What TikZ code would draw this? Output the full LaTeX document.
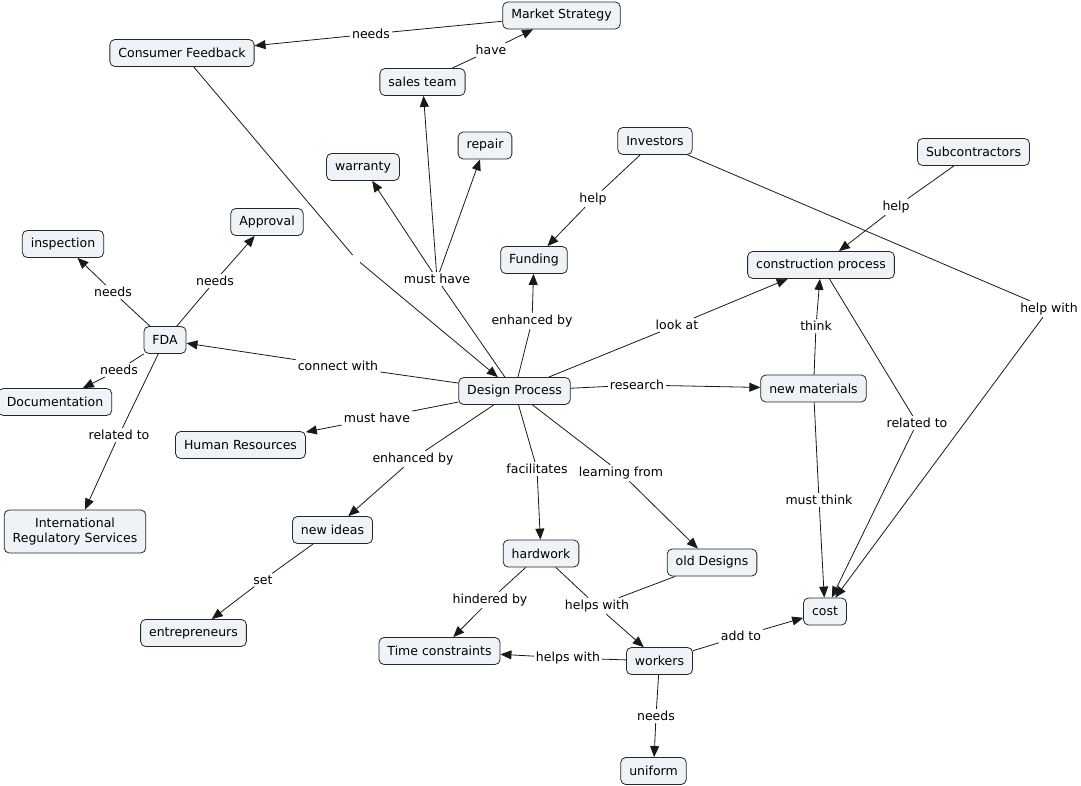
\documentclass[tikz,border=0pt]{standalone}
\usepackage{fontspec}
\setmainfont{DejaVu Sans}
\usetikzlibrary{arrows.meta}
\definecolor{nodefill}{RGB}{237,243,246}
\begin{document}
\begin{tikzpicture}[x=1pt,y=-1pt,
 concept/.style={draw=black!85, fill=nodefill, rounded corners=5pt, inner xsep=8.5pt, inner ysep=0pt, minimum height=27pt, font=\fontsize{12.5}{15}\selectfont, line width=0.8pt, align=center},
 lab/.style={fill=white, inner sep=2pt, font=\fontsize{12.5}{15}\selectfont},
 gap/.style={circle, inner sep=0pt, minimum size=10pt},
 conn/.style={draw=black!90, line width=0.8pt},
 arr/.style={conn, -{Triangle[length=11pt,width=9pt]}},
]
\useasboundingbox (0,0) rectangle (1081,786);
% concepts
\node[concept] (ms) at (561.5,15.5) {Market Strategy};
\node[concept] (cf) at (182,53) {Consumer Feedback};
\node[concept] (st) at (422.5,82) {sales team};
\node[concept] (wa) at (363,167) {warranty};
\node[concept] (re) at (485,145.5) {repair};
\node[concept] (inv) at (655,141) {Investors};
\node[concept] (sub) at (973.5,152) {Subcontractors};
\node[concept] (insp) at (63,244) {inspection};
\node[concept] (app) at (267,222) {Approval};
\node[concept] (fun) at (534,260) {Funding};
\node[concept] (cp) at (821,265) {construction process};
\node[concept] (fda) at (165,340) {FDA};
\node[concept] (doc) at (55,402) {Documentation};
\node[concept] (dp) at (514.5,391) {Design Process};
\node[concept] (nm) at (813.5,388.5) {new materials};
\node[concept] (hr) at (240.5,445) {Human Resources};
\node[concept, minimum height=43pt] (irs) at (75,531.5) {International\\Regulatory Services};
\node[concept] (ni) at (332.5,530) {new ideas};
\node[concept] (hw) at (541,553.5) {hardwork};
\node[concept] (od) at (712,562.5) {old Designs};
\node[concept] (cost) at (825,611.5) {cost};
\node[concept] (ent) at (193.5,633) {entrepreneurs};
\node[concept] (tc) at (439.5,651) {Time constraints};
\node[concept] (wk) at (659.5,661) {workers};
\node[concept] (uni) at (653.5,771) {uniform};
% linking phrases
\node[lab] (l1) at (371,34) {needs};
\node[lab] (l2) at (491,50) {have};
\node[gap] (l3) at (356,259) {};
\node[lab] (l4) at (437,279) {must have};
\node[lab] (l5) at (593,199) {help};
\node[lab] (l6) at (896,207) {help};
\node[lab] (l7) at (113,292) {needs};
\node[lab] (l8) at (215,281) {needs};
\node[lab] (l9) at (119,370) {needs};
\node[lab] (l10) at (119,435) {related to};
\node[lab] (l11) at (338,366) {connect with};
\node[lab] (l12) at (377,418) {must have};
\node[lab] (l13) at (532,321) {enhanced by};
\node[lab] (l14) at (677,325) {look at};
\node[lab] (l15) at (637,385) {research};
\node[lab] (l16) at (413,459) {enhanced by};
\node[lab] (l17) at (537,469) {facilitates};
\node[lab] (l18) at (621,473) {learning from};
\node[lab] (l19) at (263,580) {set};
\node[lab] (l20) at (490,600) {hindered by};
\node[lab] (l21) at (597,606) {helps with};
\node[lab] (l22) at (568,658) {helps with};
\node[lab] (l23) at (741,636) {add to};
\node[lab] (l24) at (656,716) {needs};
\node[lab] (l25) at (816,326) {think};
\node[lab] (l26) at (819,500) {must think};
\node[lab] (l27) at (917,423) {related to};
\node[lab] (l28) at (1049,309) {help with};
% connectors
\draw[conn] (ms) -- (l1); \draw[arr] (l1) -- (cf);
\draw[conn] (st) -- (l2); \draw[arr] (l2) -- (ms);
\draw[conn] (cf) -- (l3); \draw[arr] (l3) -- (dp);
\draw[conn] (dp) -- (l4); \draw[arr] (l4) -- (wa); \draw[arr] (l4) -- (re); \draw[arr] (l4) -- (st);
\draw[conn] (inv) -- (l5); \draw[arr] (l5) -- (fun);
\draw[conn] (sub) -- (l6); \draw[arr] (l6) -- (cp);
\draw[conn] (fda) -- (l7); \draw[arr] (l7) -- (insp);
\draw[conn] (fda) -- (l8); \draw[arr] (l8) -- (app);
\draw[conn] (fda) -- (l9); \draw[arr] (l9) -- (doc);
\draw[conn] (fda) -- (l10); \draw[arr] (l10) -- (irs);
\draw[conn] (dp) -- (l11); \draw[arr] (l11) -- (fda);
\draw[conn] (dp) -- (l12); \draw[arr] (l12) -- (hr);
\draw[conn] (dp) -- (l13); \draw[arr] (l13) -- (fun);
\draw[conn] (dp) -- (l14); \draw[arr] (l14) -- (cp);
\draw[conn] (dp) -- (l15); \draw[arr] (l15) -- (nm);
\draw[conn] (dp) -- (l16); \draw[arr] (l16) -- (ni);
\draw[conn] (dp) -- (l17); \draw[arr] (l17) -- (hw);
\draw[conn] (dp) -- (l18); \draw[arr] (l18) -- (od);
\draw[conn] (ni) -- (l19); \draw[arr] (l19) -- (ent);
\draw[conn] (hw) -- (l20); \draw[arr] (l20) -- (tc);
\draw[conn] (hw) -- (l21); \draw[conn] (od) -- (l21); \draw[arr] (l21) -- (wk);
\draw[conn] (wk) -- (l22); \draw[arr] (l22) -- (tc);
\draw[conn] (wk) -- (l23); \draw[arr] (l23) -- (cost);
\draw[conn] (wk) -- (l24); \draw[arr] (l24) -- (uni);
\draw[conn] (nm) -- (l25); \draw[arr] (l25) -- (cp);
\draw[conn] (nm) -- (l26); \draw[arr] (l26) -- (cost);
\draw[conn] (cp) -- (l27); \draw[arr] (l27) -- (cost);
\draw[conn] (inv) -- (l28); \draw[arr] (l28) -- (cost);
\end{tikzpicture}
\end{document}
